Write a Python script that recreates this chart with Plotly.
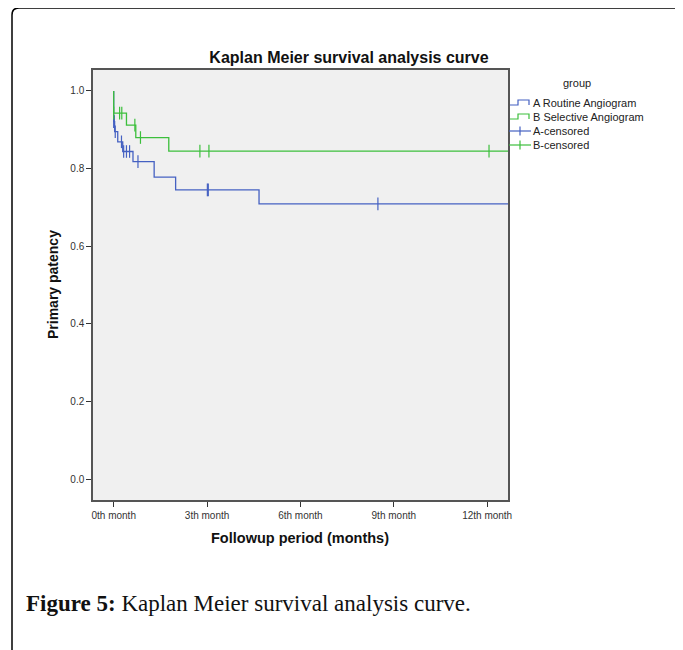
import plotly.graph_objects as go

# ---- data ----
a_times = [0, 0, 0.03, 0.13, 0.29, 0.62, 1.30, 1.99, 4.67, 12.7]
a_surv = [1.0, 0.921, 0.895, 0.869, 0.844, 0.818, 0.778, 0.745, 0.709, 0.709]
b_times = [0, 0, 0.41, 0.71, 1.77, 12.7]
b_surv = [1.0, 0.943, 0.912, 0.880, 0.845, 0.845]

a_cens_t = [0.0, 0.02, 0.05, 0.25, 0.32, 0.41, 0.51, 0.78, 3.01, 3.04, 8.49]
a_cens_s = [0.921, 0.921, 0.895, 0.869, 0.844, 0.844, 0.844, 0.818, 0.745, 0.745, 0.709]
b_cens_t = [0.0, 0.19, 0.26, 0.68, 0.86, 2.77, 3.06, 12.06]
b_cens_s = [0.943, 0.943, 0.943, 0.912, 0.880, 0.845, 0.845, 0.845]

x_tickvals = [0, 3, 6, 9, 12]
x_ticktext = ["0th month", "3th month", "6th month", "9th month", "12th month"]
y_tickvals = [0.0, 0.2, 0.4, 0.6, 0.8, 1.0]

legend_names = ["A Routine Angiogram", "B Selective Angiogram", "A-censored", "B-censored"]

BLUE = "#4561c2"
GREEN = "#3cbf3c"

# page body has an 8px margin: page pixel p -> figure pixel p - 8
OFF = 8
W, H = 683 - OFF, 650 - OFF
L, R, T, B = 93 - OFF, 508 - OFF, 70 - OFF, 500 - OFF
pw, ph = R - L, B - T


def px_x(p):
    return (p - OFF - L) / pw


def px_y(p):
    return (B - (p - OFF)) / ph


fig = go.Figure()
fig.add_trace(go.Scatter(x=a_times, y=a_surv, mode="lines", line=dict(color=BLUE, width=1.3, shape="hv"),
                         name=legend_names[0]))
fig.add_trace(go.Scatter(x=b_times, y=b_surv, mode="lines", line=dict(color=GREEN, width=1.3, shape="hv"),
                         name=legend_names[1]))
fig.add_trace(go.Scatter(x=a_cens_t, y=a_cens_s, mode="markers",
                         marker=dict(symbol="line-ns-open", size=9, color=BLUE,
                                     line=dict(color=BLUE, width=1.2)),
                         name=legend_names[2]))
fig.add_trace(go.Scatter(x=b_cens_t, y=b_cens_s, mode="markers",
                         marker=dict(symbol="line-ns-open", size=9, color=GREEN,
                                     line=dict(color=GREEN, width=1.2)),
                         name=legend_names[3]))

border = (f"M {px_x(12)},{px_y(650)} L {px_x(12)},{px_y(15)} "
          f"Q {px_x(12)},{px_y(8)} {px_x(19)},{px_y(8)} L {px_x(683)},{px_y(8)}")

shapes = [dict(type="path", xref="paper", yref="paper", path=border,
               line=dict(color="black", width=1.5))]
annotations = []

# manual legend (SPSS style)
leg_y = [103, 117, 131, 145]
leg_col = [BLUE, GREEN, BLUE, GREEN]
for i, (name, yy, col) in enumerate(zip(legend_names, leg_y, leg_col)):
    if i < 2:
        p = (f"M {px_x(510)},{px_y(yy + 2)} L {px_x(518)},{px_y(yy + 2)} L {px_x(518)},{px_y(yy - 3)} "
             f"L {px_x(529)},{px_y(yy - 3)} L {px_x(529)},{px_y(yy + 2)}")
        shapes.append(dict(type="path", xref="paper", yref="paper", path=p,
                           line=dict(color=col, width=1.2)))
    else:
        shapes.append(dict(type="line", xref="paper", yref="paper", x0=px_x(509), x1=px_x(531),
                           y0=px_y(yy), y1=px_y(yy), line=dict(color=col, width=1.2)))
        shapes.append(dict(type="line", xref="paper", yref="paper", x0=px_x(520), x1=px_x(520),
                           y0=px_y(yy - 4.5), y1=px_y(yy + 4.5), line=dict(color=col, width=1.2)))
    annotations.append(dict(text=name, xref="paper", yref="paper", x=px_x(531), y=px_y(yy),
                            xanchor="left", yanchor="middle", showarrow=False,
                            font=dict(size=11, color="#222")))
annotations.append(dict(text="group", xref="paper", yref="paper", x=px_x(577), y=px_y(83),
                        xanchor="center", yanchor="middle", showarrow=False,
                        font=dict(size=11, color="#222")))

annotations += [
    dict(text="<b>Followup period (months)</b>", xref="paper", yref="paper",
         x=px_x(300), y=px_y(538), xanchor="center", yanchor="middle", showarrow=False,
         font=dict(size=14.5, color="#111")),
    dict(text="<b>Primary patency</b>", xref="paper", yref="paper",
         x=px_x(53), y=px_y(285), xanchor="center", yanchor="middle", showarrow=False,
         textangle=-90, font=dict(size=14, color="#111")),
    dict(text="<b>Figure 5:</b> Kaplan Meier survival analysis curve.", xref="paper", yref="paper",
         x=px_x(24), y=px_y(603), xanchor="left", yanchor="middle", showarrow=False,
         font=dict(size=23, color="#111", family="Liberation Serif, DejaVu Serif, serif")),
]

fig.update_layout(
    width=W, height=H,
    margin=dict(l=L, r=W - R, t=T, b=H - B),
    paper_bgcolor="white",
    plot_bgcolor="#f0f0f0",
    font=dict(family="Liberation Sans, Arial, sans-serif", color="#222"),
    title=dict(text="<b>Kaplan Meier survival analysis curve</b>", xref="container",
               x=(349 - OFF) / W, xanchor="center", yref="container",
               y=1 - (57 - OFF) / H, yanchor="middle",
               font=dict(size=16, color="#111")),
    showlegend=False,
    xaxis=dict(range=[-0.665, 12.67], tickvals=x_tickvals, ticktext=x_ticktext,
               showgrid=False, zeroline=False, showline=True, linecolor="#555", linewidth=1.5,
               mirror=True, ticks="outside", ticklen=5, tickcolor="#333",
               tickfont=dict(size=10, color="#333")),
    yaxis=dict(range=[-0.054, 1.054], tickvals=y_tickvals, tickformat=".1f",
               showgrid=False, zeroline=False, showline=True, linecolor="#555", linewidth=1.5,
               mirror=True, ticks="outside", ticklen=5, tickcolor="#333",
               tickfont=dict(size=10, color="#333")),
    shapes=shapes,
    annotations=annotations,
)

fig.write_html("out.html")
